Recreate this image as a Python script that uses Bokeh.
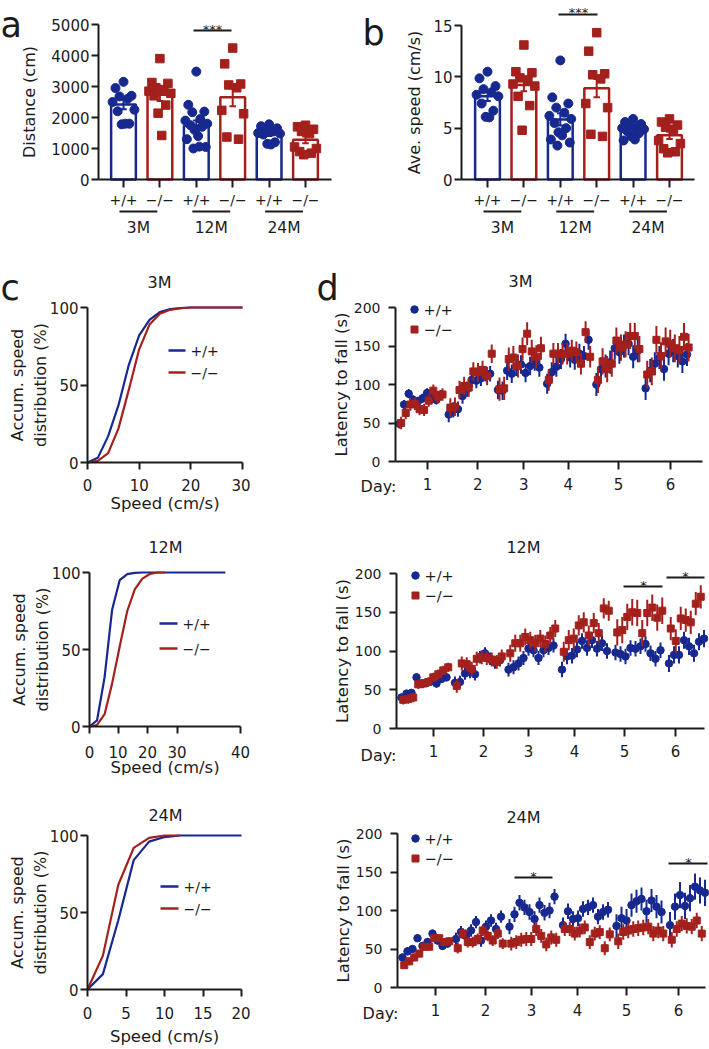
import numpy as np
from bokeh.plotting import figure
from bokeh.layouts import column, row
from bokeh.models import Range1d, FixedTicker
from bokeh.core.properties import value
from bokeh.embed import file_html
from bokeh.resources import INLINE

BLUE = "#17288f"
RED = "#a3201c"
INK = "#1b1b1b"
FONT = "DejaVu Sans"

# ---------------- data ----------------
GENOTYPES = ["+/+", "\u2212/\u2212"]
AGES = ["3M", "12M", "24M"]

# a: distance travelled (cm)
dist_mean = [2420, 2730, 1730, 2650, 1470, 1280]
dist_sem = [150, 200, 170, 290, 70, 110]
dist_3m_wt = [3150, 2950, 2700, 2680, 2600, 2500, 2250, 2200, 1800, 1780, 1800]
dist_3m_ko = [3900, 3130, 3100, 2960, 2900, 2850, 2780, 2700, 2400, 2140, 1420]
dist_12m_wt = [3480, 2410, 2190, 2170, 1950, 1900, 1800, 1750, 1700, 1600, 1400, 1300, 1050, 1000, 1060]
dist_12m_ko = [4240, 3730, 3080, 3050, 2960, 2230, 2120, 1370, 1300]
dist_24m_wt = [1780, 1720, 1650, 1600, 1550, 1500, 1480, 1450, 1200, 1150, 1130]
dist_24m_ko = [1750, 1700, 1620, 1550, 1480, 1050, 1000, 900, 850, 800]

# b: average speed (cm/s)
speed_mean = [8.1, 9.2, 5.85, 8.9, 4.9, 4.3]
speed_sem = [0.45, 0.6, 0.6, 0.9, 0.22, 0.35]
speed_3m_wt = [10.5, 9.85, 9.1, 8.8, 8.5, 8.25, 8.1, 7.4, 6.7, 6.1, 6.05]
speed_3m_ko = [13.1, 10.5, 10.4, 9.9, 9.7, 9.3, 9.1, 8.1, 7.2, 4.8]
speed_12m_wt = [11.6, 8.0, 7.4, 7.0, 6.5, 6.2, 5.9, 5.5, 5.0, 4.6, 4.3, 3.9, 3.6, 3.3]
speed_12m_ko = [14.3, 12.5, 10.3, 10.2, 9.8, 7.4, 7.0, 4.4, 4.2]
speed_24m_wt = [5.9, 5.6, 5.4, 5.2, 5.1, 5.0, 4.9, 4.7, 4.5, 4.2, 3.9, 3.8]
speed_24m_ko = [5.9, 5.6, 5.3, 5.1, 4.9, 3.8, 3.5, 3.0, 2.7, 2.6]

# c: accumulated speed distribution (%)
cdf_3m_speed = [0, 2, 4, 6, 8, 10, 12, 14, 16, 18, 20, 22, 24, 26, 28, 30]
cdf_3m_wt = [0, 3, 17, 37, 63, 82, 92, 97, 99, 99.6, 100, 100, 100, 100, 100, 100]
cdf_3m_ko = [0, 1, 6, 22, 47, 73, 89, 96, 98.5, 99.5, 100, 100, 100, 100, 100, 100]
cdf_12m_speed_wt = [0, 2, 4, 6, 8, 10, 12, 14, 16, 18, 20, 22, 24, 26, 28, 30, 32, 34, 36]
cdf_12m_wt = [0, 4, 32, 76, 95, 99, 99.7, 100, 100, 100, 100, 100, 100, 100, 100, 100, 100, 100, 100]
cdf_12m_speed_ko = [0, 2, 4, 6, 8, 10, 12, 14, 16, 18, 20]
cdf_12m_ko = [0, 1, 8, 28, 52, 75, 89, 96, 99, 100, 100]
cdf_24m_speed_wt = [0, 2, 4, 6, 8, 10, 12, 14, 16, 18, 20]
cdf_24m_wt = [0, 10, 45, 84, 96, 99, 100, 100, 100, 100, 100]
cdf_24m_speed_ko = [0, 2, 4, 6, 8, 10, 12]
cdf_24m_ko = [0, 22, 68, 92, 98.5, 100, 100]
CDF_3M_TICKS = ["0", "10", "20", "30"]
CDF_12M_TICKS = ["0", "10", "20", "30", "40"]
CDF_24M_TICKS = ["0", "5", "10", "15", "20"]

# d: rotarod latency to fall (s), 10 trials per day (in plotting order)
rr_3m_wt = [49, 74, 88, 80, 78, 82, 89, 82, 80, 87,
            61, 67, 68, 85, 94, 106, 105, 108, 114, 114,
            93, 92, 118, 114, 123, 126, 115, 124, 130, 122,
            101, 116, 123, 133, 153, 135, 132, 140, 137, 158,
            100, 120, 124, 129, 147, 142, 150, 153, 136, 144,
            95, 118, 127, 135, 120, 140, 144, 137, 130, 139]
rr_3m_ko = [50, 63, 74, 75, 68, 67, 79, 92, 84, 87,
            70, 71, 93, 98, 96, 117, 116, 119, 111, 140,
            94, 95, 133, 135, 124, 146, 166, 143, 136, 147,
            106, 140, 140, 140, 140, 144, 142, 127, 168, 136,
            106, 130, 120, 127, 157, 148, 152, 163, 163, 146,
            113, 117, 158, 137, 156, 153, 147, 145, 162, 148]
rr_3m_wt_sem = [6, 10, 12, 13, 15, 15]
rr_3m_ko_sem = [8, 12, 15, 14, 17, 18]

rr_12m_wt = [40, 45, 46, 66, 58, 59, 61, 58, 64, 66,
             59, 60, 71, 73, 70, 92, 97, 90, 85, 88,
             76, 79, 84, 91, 103, 101, 91, 101, 104, 107,
             76, 93, 94, 102, 113, 104, 114, 103, 110, 100,
             98, 96, 93, 104, 103, 106, 109, 97, 90, 101,
             84, 95, 95, 114, 106, 97, 112, 116]
rr_12m_ko = [37, 38, 40, 57, 58, 60, 66, 70, 75, 79,
             55, 84, 83, 77, 90, 92, 91, 89, 86, 93,
             97, 110, 110, 118, 114, 110, 116, 109, 120, 129,
             99, 114, 116, 133, 137, 120, 136, 123, 155, 152,
             124, 127, 144, 150, 149, 123, 149, 156, 143, 152,
             129, 113, 142, 140, 137, 161, 170]
rr_12m_wt_sem = [5, 8, 9, 10, 10, 11]
rr_12m_ko_sem = [6, 9, 11, 13, 17, 15]

rr_24m_wt = [39, 47, 50, 64, 54, 59, 70, 61, 54, 57,
             63, 72, 67, 74, 85, 61, 79, 87, 76, 92,
             79, 95, 110, 104, 98, 89, 107, 97, 100, 118,
             81, 99, 89, 90, 102, 104, 107, 92, 98, 101,
             80, 90, 87, 107, 112, 115, 99, 113, 105, 98,
             81, 105, 120, 106, 116, 131, 126, 123]
rr_24m_ko = [29, 34, 39, 44, 53, 53, 64, 64, 59, 60,
             51, 70, 59, 59, 63, 74, 67, 61, 70, 57,
             57, 59, 62, 63, 63, 76, 67, 56, 65, 62,
             76, 76, 70, 74, 78, 59, 70, 72, 51, 69,
             60, 72, 74, 76, 77, 78, 79, 70, 74, 70,
             62, 76, 83, 80, 79, 87, 70]
rr_24m_wt_sem = [5, 8, 10, 10, 15, 17]
rr_24m_ko_sem = [5, 7, 9, 9, 10, 10]

DAY_LABELS = ["1", "2", "3", "4", "5", "6"]

# ---------------- layout helpers ----------------
JITTER = [0.0, -0.22, 0.22, -0.11, 0.11, -0.3, 0.3, -0.16, 0.16, -0.05, 0.05, -0.26, 0.26, -0.08, 0.08]
TRIALS = 10
DAY_PERIOD = 10.7
KO_SHIFT = 0.35


class Panel:
    """Figure whose canvas covers a box of the page (px), with linear data mapping."""
    def __init__(self, box, xa, ya):
        self.x0, self.y0, w, h = box
        (rx1, vx1), (rx2, vx2) = xa
        (ry1, vy1), (ry2, vy2) = ya
        self.kx = (vx2 - vx1) / (rx2 - rx1)
        self.bx = vx1 - rx1 * self.kx
        self.ky = (vy2 - vy1) / (ry2 - ry1)
        self.by = vy1 - ry1 * self.ky
        p = figure(width=w, height=h,
                   x_range=Range1d(self.X(self.x0), self.X(self.x0 + w)),
                   y_range=Range1d(self.Y(self.y0 + h), self.Y(self.y0)),
                   output_backend="svg", toolbar_location=None, title=None,
                   min_border=0, min_border_left=0, min_border_right=0,
                   min_border_top=0, min_border_bottom=0,
                   outline_line_color=None, background_fill_color="white",
                   border_fill_color="white")
        p.xgrid.visible = False
        p.ygrid.visible = False
        self.fig = p

    def X(self, rx):
        return self.bx + rx * self.kx

    def Y(self, ry):
        return self.by + ry * self.ky


def txt(p, x, y, s, size, align="center", baseline="middle"):
    p.text(x=[x], y=[y], text=[s], text_font=value(FONT), text_font_size=f"{size}px",
           text_align=align, text_baseline=baseline, text_color=INK)


def style_axes(P, yaxis_px, xaxis_end_px, ybounds, yticks, xticks, xlabels,
               tick_size, label_size, xlab_size, ylabel, xlabel=None,
               ystand=2, ylabstand=10, xstand=6, xlabstand=2, tick_out=7, xlabel_size=None):
    p = P.fig
    for ax in list(p.xaxis) + list(p.yaxis):
        ax.axis_line_width = 2
        ax.axis_line_color = INK
        ax.major_tick_line_width = 2
        ax.major_tick_line_color = INK
        ax.major_tick_in = 0
        ax.major_tick_out = tick_out
        ax.minor_tick_line_color = None
        ax.major_label_text_font = FONT
        ax.major_label_text_color = INK
        ax.axis_label_text_font = FONT
        ax.axis_label_text_font_style = "normal"
        ax.axis_label_text_color = INK
    ya = p.yaxis[0]
    xa = p.xaxis[0]
    ya.fixed_location = P.X(yaxis_px)
    ya.bounds = ybounds
    ya.ticker = FixedTicker(ticks=yticks)
    ya.major_label_text_font_size = f"{tick_size}px"
    ya.major_label_standoff = ystand
    ya.axis_label = ylabel
    ya.axis_label_text_font_size = f"{label_size}px"
    ya.axis_label_standoff = ylabstand
    xa.fixed_location = ybounds[0]
    xa.bounds = (P.X(yaxis_px), P.X(xaxis_end_px))
    xa.ticker = FixedTicker(ticks=xticks)
    if xlabels is not None:
        xa.major_label_overrides = {t: l for t, l in zip(xticks, xlabels)}
    xa.major_label_text_font_size = f"{xlab_size}px"
    xa.major_label_standoff = xstand
    if xlabel:
        xa.axis_label = xlabel
        xa.axis_label_text_font_size = f"{xlabel_size or label_size}px"
        xa.axis_label_standoff = xlabstand


def bar_panel(P, means, sems, groups, yticks, ybounds, ylabel, yaxis_px, xaxis_end_px,
              star_px, star_line_px, letter, letter_px, group_line_y, group_label_y, ylabstand):
    p = P.fig
    bx = [1, 2, 3, 4, 5, 6]
    cols = [BLUE, RED] * 3
    p.vbar(x=bx, top=means, bottom=ybounds[0], width=0.68, fill_color="white",
           line_color=cols, line_width=2.5)
    for i, vals in enumerate(groups):
        xs = [bx[i] + JITTER[k % len(JITTER)] for k in range(len(vals))]
        if i % 2 == 0:
            p.scatter(xs, vals, marker="circle", size=9, color=cols[i])
        else:
            p.scatter(xs, vals, marker="square", size=8.5, color=cols[i])
    lo = [m - s for m, s in zip(means, sems)]
    hi = [m + s for m, s in zip(means, sems)]
    p.segment(x0=bx, y0=lo, x1=bx, y1=hi, line_color=cols, line_width=2)
    cap = 0.09
    p.segment(x0=[x - cap for x in bx], y0=hi, x1=[x + cap for x in bx], y1=hi, line_color=cols, line_width=2)
    p.segment(x0=[x - cap for x in bx], y0=lo, x1=[x + cap for x in bx], y1=lo, line_color=cols, line_width=2)

    style_axes(P, yaxis_px, xaxis_end_px, ybounds, yticks, bx, GENOTYPES * 3,
               15, 16, 14, ylabel, ystand=2, ylabstand=ylabstand, xstand=4, tick_out=7)
    p.xaxis[0].major_tick_out = 8

    for g, age in enumerate(AGES):
        x1, x2 = bx[2 * g] - 0.11, bx[2 * g + 1] - 0.07
        p.segment(x0=[x1], y0=[P.Y(group_line_y)], x1=[x2], y1=[P.Y(group_line_y)],
                  line_color=INK, line_width=2)
        txt(p, (x1 + x2) / 2, P.Y(group_label_y), age, 15.5)
    (sx1, sx2, sy) = star_line_px
    p.segment(x0=[P.X(sx1)], y0=[P.Y(sy)], x1=[P.X(sx2)], y1=[P.Y(sy)], line_color=INK, line_width=2)
    txt(p, P.X(star_px[0]), P.Y(star_px[1]), "***", 13, baseline="alphabetic")
    txt(p, P.X(letter_px[0]), P.Y(letter_px[1]), letter, 35, align="left", baseline="alphabetic")


def cdf_panel(P, sp_wt, wt, sp_ko, ko, tick_px, tick_labels, xend, title, title_px, leg_px,
              xstand, xlabstand, letter=None, letter_px=None):
    p = P.fig
    p.line(sp_wt, wt, line_color=BLUE, line_width=2.2)
    p.line(sp_ko, ko, line_color=RED, line_width=2.2)
    xticks = [P.X(t) for t in tick_px]
    style_axes(P, (0 - P.bx) / P.kx, (xend - P.bx) / P.kx, (0, 100), [0, 50, 100],
               xticks, tick_labels, 15, 16, 15, "Accum. speed\ndistribution (%)", "Speed (cm/s)",
               ystand=2, ylabstand=-3, xstand=xstand, xlabstand=xlabstand, tick_out=7, xlabel_size=16.5)
    txt(p, P.X(title_px[0]), P.Y(title_px[1]), title, 16)
    lx1, lx2, ly1, ly2 = leg_px
    for yy, col, lab in ((ly1, BLUE, GENOTYPES[0]), (ly2, RED, GENOTYPES[1])):
        p.segment(x0=[P.X(lx1)], y0=[P.Y(yy)], x1=[P.X(lx2)], y1=[P.Y(yy)], line_color=col, line_width=2.5)
        txt(p, P.X(lx2 + 5), P.Y(yy), lab, 14, align="left")
    if letter:
        txt(p, P.X(letter_px[0]), P.Y(letter_px[1]), letter, 35, align="left", baseline="alphabetic")


def trial_x(n, shift):
    return [(i // TRIALS) * DAY_PERIOD + (i % TRIALS) + shift for i in range(n)]


def expand_sem(vals, sem):
    return [sem[i // TRIALS] for i in range(len(vals))]


def rotarod_panel(P, wt, ko, wt_sem, ko_sem, ticks, yaxis_px, xend_px, title, title_px,
                  leg_px, day_px, stars, letter=None, letter_px=None):
    p = P.fig
    for vals, sem, col, shift, mk, sz in ((wt, wt_sem, BLUE, 0.0, "circle", 7.5),
                                          (ko, ko_sem, RED, KO_SHIFT, "square", 7)):
        xs = trial_x(len(vals), shift)
        e = expand_sem(vals, sem)
        p.segment(x0=xs, y0=[v - s for v, s in zip(vals, e)], x1=xs, y1=[v + s for v, s in zip(vals, e)],
                  line_color=col, line_width=2)
        p.scatter(xs, vals, marker=mk, size=sz, color=col)
    style_axes(P, yaxis_px, xend_px, (0, 200), [0, 50, 100, 150, 200], ticks, DAY_LABELS,
               14, 16.5, 15, "Latency to fall (s)", ystand=8, ylabstand=0, xstand=8, tick_out=7)
    p.xaxis[0].major_tick_out = 8
    txt(p, P.X(day_px[0]), P.Y(day_px[1]), "Day:", 16)
    txt(p, P.X(title_px[0]), P.Y(title_px[1]), title, 16)
    lx, ly1, ly2 = leg_px
    p.scatter([P.X(lx)], [P.Y(ly1)], marker="circle", size=7.5, color=BLUE)
    p.scatter([P.X(lx)], [P.Y(ly2)], marker="square", size=7, color=RED)
    txt(p, P.X(lx + 9), P.Y(ly1), GENOTYPES[0], 14.5, align="left")
    txt(p, P.X(lx + 9), P.Y(ly2), GENOTYPES[1], 14.5, align="left")
    for (x1, x2, yl, xs_, ys_) in stars:
        p.segment(x0=[P.X(x1)], y0=[P.Y(yl)], x1=[P.X(x2)], y1=[P.Y(yl)], line_color=INK, line_width=2)
        txt(p, P.X(xs_), P.Y(ys_), "*", 13, baseline="alphabetic")
    if letter:
        txt(p, P.X(letter_px[0]), P.Y(letter_px[1]), letter, 35, align="left", baseline="alphabetic")


# ---------------- a ----------------
A = Panel((0, 0, 350, 262), ((123, 1), (305, 6)), ((179, 0), (24, 5000)))
bar_panel(A, dist_mean, dist_sem,
          [dist_3m_wt, dist_3m_ko, dist_12m_wt, dist_12m_ko, dist_24m_wt, dist_24m_ko],
          [0, 1000, 2000, 3000, 4000, 5000], (0, 5000), "Distance (cm)", 98, 331,
          (212, 28.5), (193, 231, 30), "a", (0, 24), 211, 227, 9)

# ---------------- b ----------------
B = Panel((350, 0, 359, 262), ((487, 1), (669, 6)), ((179, 0), (25, 15)))
bar_panel(B, speed_mean, speed_sem,
          [speed_3m_wt, speed_3m_ko, speed_12m_wt, speed_12m_ko, speed_24m_wt, speed_24m_ko],
          [0, 5, 10, 15], (0, 15), "Ave. speed (cm/s)", 461, 694,
          (578, 12), (558, 597, 14), "b", (362, 32), 211, 227, 6)

# ---------------- c ----------------
C3 = Panel((0, 262, 250, 253), ((87, 0), (242, 30)), ((462, 0), (307, 100)))
cdf_panel(C3, cdf_3m_speed, cdf_3m_wt, cdf_3m_speed, cdf_3m_ko, [87, 138.7, 190.3, 242], CDF_3M_TICKS, 30,
          "3M", (159, 282), (168, 185, 350, 372), 9, 0, "c", (0, 287))
C12 = Panel((0, 515, 250, 260), ((89, 0), (240, 40)), ((726, 0), (572, 100)))
cdf_panel(C12, cdf_12m_speed_wt, cdf_12m_wt, cdf_12m_speed_ko, cdf_12m_ko, [89, 117.5, 147, 176.5, 240],
          CDF_12M_TICKS, 40, "12M", (165, 547), (159, 177, 623, 648), 12, -3)
C24 = Panel((0, 775, 250, 274), ((87, 0), (241, 20)), ((989, 0), (835, 100)))
cdf_panel(C24, cdf_24m_speed_wt, cdf_24m_wt, cdf_24m_speed_ko, cdf_24m_ko, [87, 125.5, 164, 202.5, 241],
          CDF_24M_TICKS, 20, "24M", (165, 815), (160, 178, 886, 908), 10, 5)

# ---------------- d ----------------
D3 = Panel((250, 262, 459, 253), ((399, 0), (445, 10)), ((461, 0), (307, 200)))
rotarod_panel(D3, rr_3m_wt, rr_3m_ko, rr_3m_wt_sem, rr_3m_ko_sem,
              [6.1, 17.0, 27.0, 36.7, 47.6, 58.9], 395, 702, "3M", (520, 281),
              (414, 309, 329), (378, 486), [], "d", (316, 287))
D12 = Panel((250, 515, 459, 260), ((401, 0), (451, 10)), ((728, 0), (573, 200)))
rotarod_panel(D12, rr_12m_wt, rr_12m_ko, rr_12m_wt_sem, rr_12m_ko_sem,
              [6.4, 16.4, 25.4, 34.6, 44.6, 54.8], 396, 704, "12M", (523, 547),
              (415, 575, 595), (378, 755),
              [(623, 662, 586, 643, 585), (666, 704, 577, 685, 576)])
D24 = Panel((250, 775, 459, 274), ((402, 0), (452, 10)), ((987, 0), (833, 200)))
rotarod_panel(D24, rr_24m_wt, rr_24m_ko, rr_24m_wt_sem, rr_24m_ko_sem,
              [6.6, 16.6, 25.8, 35.0, 44.8, 55.2], 397, 705, "24M", (523, 817),
              (415, 838, 858), (380, 1013),
              [(514, 552, 877, 533, 876), (668, 707, 863, 688, 862)])

layout = column(row(A.fig, B.fig), row(C3.fig, D3.fig), row(C12.fig, D12.fig), row(C24.fig, D24.fig))
open("out.html", "w").write(file_html(layout, INLINE))
